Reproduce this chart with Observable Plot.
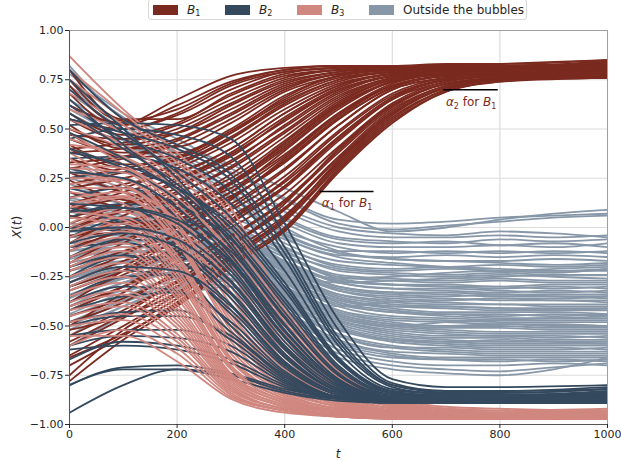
<!DOCTYPE html>
<html>
<head>
<meta charset="utf-8">
<script src="https://cdn.jsdelivr.net/npm/d3@7"></script>
<script src="https://cdn.jsdelivr.net/npm/@observablehq/plot@0.6"></script>
<style>
  body { margin: 0; background: white; font-family: "DejaVu Sans", sans-serif; }
  #wrap { position: relative; width: 621px; height: 461px; }
  #legend { position: absolute; left: 148px; top: -1px; width: 379px; height: 21px;
    border: 1px solid #d8d8d8; border-radius: 3px; background: white; z-index: 2;
    font-size: 12px; color: #262626; box-sizing: border-box; }
  .item { position: absolute; top: 2px; height: 16px; line-height: 16px; white-space: nowrap; }
  .sw { position: absolute; top: 3px; width: 25px; height: 10px; }
  .lab { position: absolute; left: 34px; top: 0; }
  sub { font-size: 8px; vertical-align: -2px; }
</style>
</head>
<body>
<div id="wrap">
  <div id="legend"></div>
  <div id="chart"></div>
</div>
<script>
// ---------- data ----------
const groupNames = ["B1", "B2", "B3", "Outside the bubbles"];
const groupColors = ["#7B2A20", "#34495E", "#D0877F", "#8797A8"];

const tB = [0, 100, 200, 300, 400, 500, 600, 700, 800, 1000];
const tOut = [0, 100, 200, 300, 400, 500, 600, 700, 800, 900, 1000];

const xTicks = [0, 200, 400, 600, 800, 1000];
const yTicks = [-1, -0.75, -0.5, -0.25, 0, 0.25, 0.5, 0.75, 1];

const b1Lines = [
  [0.62, 0.53, 0.65, 0.77, 0.81, 0.82, 0.82, 0.82, 0.82, 0.83],
  [0.72, 0.52, 0.62, 0.74, 0.80, 0.82, 0.82, 0.82, 0.82, 0.84],
  [0.55, 0.50, 0.58, 0.72, 0.79, 0.81, 0.82, 0.82, 0.83, 0.85],
  [0.80, 0.55, 0.55, 0.68, 0.78, 0.81, 0.81, 0.82, 0.82, 0.82],
  [0.47, 0.45, 0.52, 0.65, 0.76, 0.80, 0.81, 0.81, 0.82, 0.83],
  [0.50, 0.42, 0.48, 0.62, 0.74, 0.79, 0.81, 0.81, 0.81, 0.81],
  [0.38, 0.40, 0.45, 0.58, 0.72, 0.78, 0.80, 0.81, 0.81, 0.82],
  [0.30, 0.35, 0.42, 0.55, 0.70, 0.78, 0.80, 0.80, 0.80, 0.80],
  [0.45, 0.38, 0.38, 0.50, 0.67, 0.77, 0.80, 0.81, 0.81, 0.84],
  [0.25, 0.30, 0.36, 0.48, 0.64, 0.75, 0.79, 0.80, 0.80, 0.79],
  [0.20, 0.25, 0.32, 0.45, 0.62, 0.74, 0.79, 0.80, 0.81, 0.82],
  [0.15, 0.22, 0.28, 0.40, 0.58, 0.72, 0.78, 0.79, 0.80, 0.80],
  [0.35, 0.28, 0.26, 0.36, 0.55, 0.70, 0.77, 0.79, 0.80, 0.81],
  [0.10, 0.15, 0.22, 0.33, 0.52, 0.69, 0.77, 0.79, 0.79, 0.78],
  [0.05, 0.12, 0.18, 0.30, 0.48, 0.66, 0.76, 0.78, 0.79, 0.80],
  [0.00, 0.08, 0.14, 0.25, 0.44, 0.64, 0.75, 0.78, 0.79, 0.79],
  [0.28, 0.18, 0.14, 0.22, 0.40, 0.61, 0.74, 0.78, 0.79, 0.82],
  [-0.05, 0.03, 0.10, 0.20, 0.37, 0.58, 0.72, 0.77, 0.78, 0.77],
  [-0.10, -0.02, 0.06, 0.16, 0.33, 0.55, 0.71, 0.77, 0.78, 0.80],
  [-0.15, -0.06, 0.02, 0.12, 0.30, 0.52, 0.70, 0.76, 0.78, 0.78],
  [0.12, 0.04, 0.00, 0.09, 0.26, 0.49, 0.68, 0.76, 0.78, 0.81],
  [-0.22, -0.12, -0.04, 0.06, 0.23, 0.46, 0.66, 0.75, 0.77, 0.77],
  [-0.28, -0.17, -0.08, 0.03, 0.20, 0.44, 0.65, 0.75, 0.77, 0.79],
  [-0.35, -0.24, -0.12, 0.00, 0.17, 0.41, 0.63, 0.74, 0.77, 0.76],
  [-0.40, -0.30, -0.18, -0.04, 0.14, 0.39, 0.62, 0.73, 0.76, 0.78],
  [-0.45, -0.36, -0.24, -0.08, 0.10, 0.36, 0.60, 0.72, 0.76, 0.77],
  [-0.55, -0.42, -0.28, -0.12, 0.06, 0.33, 0.58, 0.71, 0.75, 0.76],
  [-0.65, -0.50, -0.34, -0.16, 0.03, 0.31, 0.56, 0.70, 0.75, 0.77],
  [-0.78, -0.57, -0.40, -0.20, -0.01, 0.29, 0.54, 0.69, 0.74, 0.76],
  [-0.70, -0.55, -0.38, -0.18, 0.00, 0.30, 0.55, 0.70, 0.75, 0.78],
  [0.42, 0.32, 0.34, 0.46, 0.63, 0.75, 0.79, 0.80, 0.81, 0.83],
  [0.08, 0.18, 0.25, 0.38, 0.56, 0.71, 0.78, 0.79, 0.80, 0.84],
  [-0.02, 0.10, 0.20, 0.34, 0.51, 0.68, 0.77, 0.79, 0.80, 0.82],
  [-0.20, -0.08, 0.06, 0.22, 0.41, 0.62, 0.74, 0.78, 0.79, 0.81],
  [-0.30, -0.20, -0.03, 0.14, 0.35, 0.57, 0.72, 0.77, 0.78, 0.80],
  [0.18, 0.10, 0.08, 0.18, 0.36, 0.58, 0.73, 0.78, 0.79, 0.79],
  [-0.50, -0.33, -0.15, 0.04, 0.24, 0.48, 0.67, 0.75, 0.77, 0.80],
  [0.55, 0.45, 0.48, 0.60, 0.73, 0.79, 0.81, 0.82, 0.82, 0.80],
  [-0.12, 0.00, 0.12, 0.27, 0.46, 0.65, 0.76, 0.79, 0.80, 0.85],
  [-0.60, -0.46, -0.30, -0.10, 0.12, 0.40, 0.62, 0.73, 0.76, 0.79],
  [0.68, 0.50, 0.57, 0.70, 0.79, 0.81, 0.82, 0.82, 0.82, 0.83],
  [0.58, 0.47, 0.53, 0.67, 0.77, 0.80, 0.81, 0.82, 0.82, 0.84],
  [0.40, 0.43, 0.50, 0.63, 0.75, 0.80, 0.81, 0.81, 0.81, 0.82],
  [0.33, 0.36, 0.44, 0.57, 0.71, 0.78, 0.80, 0.81, 0.81, 0.83],
  [0.52, 0.40, 0.41, 0.53, 0.69, 0.77, 0.80, 0.80, 0.81, 0.80],
  [0.22, 0.28, 0.35, 0.49, 0.65, 0.76, 0.79, 0.80, 0.81, 0.84],
  [0.12, 0.20, 0.30, 0.43, 0.60, 0.73, 0.78, 0.80, 0.80, 0.81],
  [0.40, 0.30, 0.29, 0.40, 0.58, 0.72, 0.78, 0.80, 0.80, 0.78],
  [0.02, 0.12, 0.24, 0.37, 0.54, 0.70, 0.77, 0.79, 0.80, 0.83],
  [-0.08, 0.06, 0.17, 0.31, 0.49, 0.67, 0.76, 0.79, 0.80, 0.80],
  [0.24, 0.14, 0.12, 0.23, 0.43, 0.63, 0.75, 0.78, 0.79, 0.82],
  [-0.18, -0.04, 0.09, 0.23, 0.42, 0.62, 0.74, 0.78, 0.79, 0.77],
  [0.06, 0.02, 0.04, 0.15, 0.34, 0.56, 0.72, 0.77, 0.79, 0.81],
  [-0.25, -0.14, 0.00, 0.15, 0.33, 0.55, 0.71, 0.77, 0.78, 0.79],
  [-0.38, -0.22, -0.06, 0.10, 0.29, 0.52, 0.70, 0.76, 0.78, 0.82],
  [-0.42, -0.30, -0.14, 0.02, 0.21, 0.46, 0.66, 0.75, 0.77, 0.78],
  [-0.32, -0.22, -0.10, 0.04, 0.21, 0.45, 0.65, 0.74, 0.77, 0.80],
  [-0.48, -0.38, -0.22, -0.05, 0.13, 0.38, 0.61, 0.73, 0.76, 0.77],
  [-0.58, -0.44, -0.27, -0.09, 0.09, 0.35, 0.59, 0.72, 0.76, 0.79],
  [-0.75, -0.52, -0.36, -0.15, 0.04, 0.32, 0.57, 0.71, 0.75, 0.76],
  [-0.66, -0.54, -0.39, -0.19, -0.02, 0.28, 0.53, 0.69, 0.74, 0.77],
  [-0.52, -0.45, -0.33, -0.14, 0.05, 0.34, 0.58, 0.71, 0.75, 0.78],
  [0.75, 0.54, 0.60, 0.73, 0.80, 0.82, 0.82, 0.83, 0.83, 0.85],
  [0.48, 0.36, 0.36, 0.48, 0.66, 0.77, 0.80, 0.81, 0.81, 0.80],
  [-0.04, -0.02, 0.04, 0.18, 0.39, 0.60, 0.74, 0.78, 0.79, 0.83]
];

const b2Lines = [
  [0.52, 0.53, 0.52, 0.45, 0.02, -0.47, -0.77, -0.81, -0.81, -0.80],
  [0.45, 0.50, 0.47, 0.36, -0.04, -0.52, -0.79, -0.83, -0.83, -0.82],
  [0.80, 0.55, 0.42, 0.27, -0.10, -0.56, -0.80, -0.84, -0.85, -0.85],
  [0.62, 0.45, 0.35, 0.18, -0.16, -0.60, -0.81, -0.85, -0.86, -0.86],
  [0.35, 0.36, 0.30, 0.12, -0.22, -0.63, -0.82, -0.84, -0.84, -0.82],
  [0.70, 0.48, 0.28, 0.05, -0.28, -0.66, -0.83, -0.86, -0.87, -0.87],
  [0.25, 0.28, 0.20, 0.00, -0.32, -0.68, -0.84, -0.86, -0.86, -0.85],
  [0.58, 0.40, 0.22, -0.03, -0.36, -0.70, -0.84, -0.85, -0.85, -0.84],
  [0.15, 0.20, 0.12, -0.06, -0.40, -0.72, -0.85, -0.87, -0.87, -0.86],
  [0.75, 0.50, 0.25, -0.08, -0.43, -0.74, -0.85, -0.86, -0.86, -0.85],
  [0.05, 0.12, 0.06, -0.12, -0.46, -0.75, -0.86, -0.87, -0.87, -0.87],
  [0.40, 0.30, 0.14, -0.14, -0.49, -0.77, -0.86, -0.87, -0.88, -0.88],
  [-0.05, 0.04, 0.00, -0.17, -0.52, -0.78, -0.86, -0.86, -0.86, -0.84],
  [0.30, 0.22, 0.06, -0.20, -0.55, -0.79, -0.87, -0.88, -0.88, -0.88],
  [0.20, 0.12, -0.02, -0.24, -0.58, -0.80, -0.87, -0.87, -0.87, -0.86],
  [-0.15, -0.06, -0.08, -0.27, -0.60, -0.81, -0.87, -0.88, -0.88, -0.87],
  [0.10, 0.02, -0.10, -0.30, -0.62, -0.82, -0.87, -0.87, -0.87, -0.85],
  [-0.25, -0.15, -0.15, -0.33, -0.64, -0.83, -0.88, -0.89, -0.89, -0.89],
  [0.00, -0.02, -0.12, -0.36, -0.66, -0.83, -0.87, -0.88, -0.88, -0.87],
  [-0.10, -0.08, -0.16, -0.39, -0.68, -0.84, -0.88, -0.88, -0.88, -0.88],
  [-0.35, -0.25, -0.24, -0.42, -0.70, -0.85, -0.88, -0.88, -0.88, -0.88],
  [-0.20, -0.14, -0.20, -0.44, -0.71, -0.85, -0.88, -0.87, -0.87, -0.86],
  [-0.42, -0.35, -0.33, -0.48, -0.73, -0.86, -0.88, -0.88, -0.88, -0.87],
  [-0.30, -0.22, -0.25, -0.50, -0.74, -0.86, -0.88, -0.89, -0.89, -0.89],
  [-0.50, -0.45, -0.45, -0.55, -0.76, -0.86, -0.88, -0.88, -0.88, -0.87],
  [-0.38, -0.30, -0.32, -0.53, -0.75, -0.86, -0.88, -0.88, -0.88, -0.88],
  [-0.55, -0.52, -0.52, -0.60, -0.78, -0.87, -0.89, -0.89, -0.89, -0.89],
  [-0.48, -0.43, -0.42, -0.57, -0.77, -0.86, -0.88, -0.88, -0.88, -0.88],
  [-0.60, -0.55, -0.56, -0.63, -0.79, -0.86, -0.87, -0.87, -0.87, -0.87],
  [-0.67, -0.58, -0.60, -0.67, -0.80, -0.87, -0.88, -0.87, -0.87, -0.85],
  [-0.62, -0.60, -0.62, -0.69, -0.81, -0.87, -0.89, -0.89, -0.89, -0.89],
  [-0.80, -0.71, -0.70, -0.74, -0.82, -0.86, -0.87, -0.86, -0.86, -0.84],
  [-0.94, -0.80, -0.72, -0.75, -0.83, -0.87, -0.88, -0.88, -0.88, -0.88],
  [-0.80, -0.72, -0.72, -0.77, -0.84, -0.88, -0.89, -0.89, -0.89, -0.89],
  [0.48, 0.35, 0.18, -0.10, -0.45, -0.75, -0.85, -0.86, -0.86, -0.83],
  [0.28, 0.25, 0.10, -0.16, -0.50, -0.77, -0.86, -0.86, -0.86, -0.85],
  [0.12, 0.10, 0.02, -0.22, -0.56, -0.80, -0.87, -0.88, -0.88, -0.88],
  [-0.02, 0.00, -0.06, -0.28, -0.61, -0.82, -0.87, -0.87, -0.87, -0.86],
  [0.65, 0.42, 0.20, -0.05, -0.38, -0.71, -0.84, -0.85, -0.85, -0.83],
  [0.38, 0.32, 0.20, 0.02, -0.30, -0.67, -0.83, -0.84, -0.84, -0.82],
  [-0.08, -0.03, -0.10, -0.34, -0.65, -0.83, -0.87, -0.87, -0.87, -0.86],
  [-0.28, -0.20, -0.22, -0.40, -0.69, -0.84, -0.87, -0.87, -0.87, -0.87],
  [0.08, 0.10, 0.04, -0.18, -0.53, -0.78, -0.86, -0.86, -0.86, -0.85],
  [0.55, 0.48, 0.40, 0.24, -0.13, -0.58, -0.80, -0.83, -0.83, -0.81]
];

const b3Lines = [
  [0.87, 0.60, 0.38, 0.10, -0.40, -0.72, -0.87, -0.91, -0.92, -0.93],
  [0.80, 0.58, 0.35, 0.06, -0.42, -0.73, -0.87, -0.92, -0.93, -0.94],
  [0.75, 0.55, 0.33, 0.03, -0.44, -0.74, -0.88, -0.92, -0.93, -0.92],
  [0.68, 0.52, 0.30, 0.00, -0.46, -0.75, -0.88, -0.93, -0.94, -0.95],
  [0.60, 0.48, 0.27, -0.03, -0.48, -0.76, -0.89, -0.93, -0.94, -0.94],
  [0.55, 0.42, 0.24, -0.06, -0.50, -0.77, -0.89, -0.93, -0.95, -0.96],
  [0.50, 0.40, 0.22, -0.09, -0.52, -0.78, -0.90, -0.93, -0.94, -0.93],
  [0.48, 0.32, 0.15, -0.12, -0.54, -0.79, -0.90, -0.94, -0.95, -0.95],
  [0.45, 0.35, 0.18, -0.15, -0.56, -0.80, -0.90, -0.94, -0.95, -0.96],
  [0.42, 0.36, 0.19, -0.18, -0.58, -0.81, -0.91, -0.94, -0.95, -0.94],
  [0.40, 0.30, 0.12, -0.21, -0.60, -0.82, -0.91, -0.94, -0.95, -0.95],
  [0.38, 0.22, 0.04, -0.24, -0.62, -0.83, -0.91, -0.95, -0.96, -0.97],
  [0.35, 0.18, 0.00, -0.27, -0.64, -0.84, -0.92, -0.95, -0.95, -0.95],
  [0.32, 0.30, 0.08, -0.30, -0.66, -0.85, -0.92, -0.95, -0.96, -0.96],
  [0.30, 0.28, 0.06, -0.33, -0.68, -0.85, -0.92, -0.95, -0.95, -0.93],
  [0.28, 0.22, 0.02, -0.36, -0.69, -0.86, -0.93, -0.95, -0.96, -0.96],
  [0.25, 0.25, 0.02, -0.39, -0.71, -0.87, -0.93, -0.95, -0.96, -0.95],
  [0.22, 0.24, 0.00, -0.42, -0.72, -0.87, -0.93, -0.96, -0.96, -0.97],
  [0.20, 0.20, -0.03, -0.44, -0.74, -0.88, -0.93, -0.95, -0.96, -0.94],
  [0.18, 0.12, -0.08, -0.46, -0.75, -0.88, -0.94, -0.96, -0.96, -0.96],
  [0.15, 0.18, -0.05, -0.48, -0.76, -0.89, -0.94, -0.96, -0.96, -0.95],
  [0.12, 0.16, -0.07, -0.50, -0.77, -0.89, -0.94, -0.96, -0.96, -0.96],
  [0.10, 0.15, -0.08, -0.52, -0.78, -0.90, -0.94, -0.96, -0.97, -0.97],
  [0.08, 0.04, -0.16, -0.54, -0.79, -0.90, -0.94, -0.96, -0.96, -0.94],
  [0.05, 0.00, -0.19, -0.56, -0.80, -0.90, -0.95, -0.96, -0.96, -0.96],
  [0.02, 0.10, -0.14, -0.58, -0.81, -0.91, -0.95, -0.96, -0.96, -0.95],
  [0.00, 0.08, -0.16, -0.60, -0.82, -0.91, -0.95, -0.96, -0.97, -0.97],
  [-0.02, 0.05, -0.18, -0.62, -0.83, -0.91, -0.95, -0.96, -0.96, -0.95],
  [-0.05, 0.02, -0.21, -0.64, -0.84, -0.92, -0.95, -0.96, -0.96, -0.96],
  [-0.08, 0.00, -0.23, -0.66, -0.85, -0.92, -0.95, -0.97, -0.97, -0.97],
  [-0.10, -0.02, -0.25, -0.67, -0.85, -0.92, -0.95, -0.96, -0.96, -0.94],
  [-0.12, -0.05, -0.27, -0.68, -0.86, -0.93, -0.96, -0.97, -0.97, -0.96],
  [-0.15, -0.08, -0.30, -0.70, -0.87, -0.93, -0.96, -0.96, -0.96, -0.96],
  [-0.18, -0.10, -0.32, -0.71, -0.87, -0.93, -0.96, -0.97, -0.97, -0.97],
  [-0.20, -0.12, -0.34, -0.72, -0.88, -0.93, -0.96, -0.96, -0.96, -0.95],
  [-0.22, -0.15, -0.36, -0.74, -0.88, -0.94, -0.96, -0.97, -0.97, -0.96],
  [-0.25, -0.18, -0.39, -0.75, -0.89, -0.94, -0.96, -0.96, -0.96, -0.97],
  [-0.28, -0.20, -0.41, -0.76, -0.89, -0.94, -0.96, -0.97, -0.97, -0.96],
  [-0.30, -0.22, -0.43, -0.77, -0.90, -0.94, -0.96, -0.97, -0.97, -0.97],
  [-0.32, -0.25, -0.45, -0.78, -0.90, -0.95, -0.96, -0.96, -0.96, -0.95],
  [-0.35, -0.28, -0.47, -0.79, -0.91, -0.95, -0.97, -0.97, -0.97, -0.97],
  [-0.38, -0.32, -0.49, -0.80, -0.91, -0.95, -0.96, -0.97, -0.97, -0.96],
  [-0.40, -0.34, -0.51, -0.81, -0.92, -0.95, -0.97, -0.97, -0.97, -0.97],
  [-0.42, -0.38, -0.54, -0.82, -0.92, -0.95, -0.96, -0.97, -0.97, -0.96],
  [-0.45, -0.40, -0.56, -0.83, -0.92, -0.96, -0.97, -0.97, -0.97, -0.97],
  [-0.48, -0.44, -0.58, -0.84, -0.93, -0.96, -0.97, -0.97, -0.97, -0.96],
  [-0.50, -0.47, -0.61, -0.85, -0.93, -0.96, -0.97, -0.97, -0.97, -0.97],
  [-0.55, -0.55, -0.68, -0.87, -0.94, -0.96, -0.97, -0.97, -0.97, -0.97],
  [-0.60, -0.52, -0.64, -0.86, -0.93, -0.96, -0.97, -0.97, -0.97, -0.96]
];

const outLines = [
  [0.82, 0.55, 0.42, 0.32, 0.20, 0.08, -0.02, 0.00, 0.04, 0.07, 0.09],
  [0.78, 0.58, 0.45, 0.30, 0.15, 0.04, 0.02, 0.03, 0.05, 0.06, 0.07],
  [0.72, 0.52, 0.38, 0.25, 0.10, 0.00, -0.03, -0.04, -0.02, -0.03, -0.05],
  [0.68, 0.50, 0.35, 0.20, 0.05, -0.05, -0.07, -0.08, -0.06, -0.07, -0.06],
  [0.60, 0.45, 0.30, 0.15, 0.02, -0.08, -0.10, -0.10, -0.09, -0.10, -0.08],
  [0.40, 0.30, 0.22, 0.12, -0.02, -0.10, -0.13, -0.12, -0.13, -0.12, -0.13],
  [0.20, 0.15, 0.10, 0.05, -0.06, -0.14, -0.15, -0.14, -0.15, -0.14, -0.15],
  [0.30, 0.20, 0.12, 0.08, -0.08, -0.17, -0.19, -0.20, -0.19, -0.20, -0.19],
  [0.10, 0.08, 0.05, 0.02, -0.10, -0.20, -0.22, -0.21, -0.22, -0.23, -0.21],
  [0.00, 0.02, 0.02, 0.00, -0.12, -0.22, -0.24, -0.25, -0.24, -0.25, -0.26],
  [-0.10, -0.05, -0.02, -0.04, -0.15, -0.25, -0.27, -0.28, -0.27, -0.28, -0.28],
  [0.25, 0.18, 0.10, 0.02, -0.14, -0.26, -0.29, -0.30, -0.30, -0.31, -0.30],
  [-0.20, -0.12, -0.08, -0.08, -0.18, -0.28, -0.31, -0.32, -0.33, -0.32, -0.33],
  [0.15, 0.10, 0.05, -0.02, -0.18, -0.30, -0.33, -0.34, -0.35, -0.35, -0.35],
  [-0.30, -0.20, -0.14, -0.12, -0.22, -0.32, -0.35, -0.36, -0.37, -0.37, -0.38],
  [0.05, 0.02, -0.02, -0.06, -0.22, -0.34, -0.38, -0.39, -0.39, -0.40, -0.40],
  [-0.40, -0.28, -0.20, -0.15, -0.25, -0.36, -0.40, -0.41, -0.42, -0.42, -0.42],
  [-0.05, -0.04, -0.06, -0.10, -0.26, -0.38, -0.42, -0.44, -0.44, -0.45, -0.44],
  [-0.15, -0.10, -0.10, -0.12, -0.28, -0.40, -0.45, -0.46, -0.47, -0.47, -0.47],
  [0.35, 0.22, 0.10, -0.04, -0.28, -0.42, -0.47, -0.48, -0.49, -0.49, -0.50],
  [-0.25, -0.18, -0.15, -0.16, -0.31, -0.44, -0.49, -0.51, -0.51, -0.52, -0.52],
  [-0.35, -0.25, -0.20, -0.18, -0.33, -0.46, -0.51, -0.53, -0.54, -0.54, -0.54],
  [-0.45, -0.35, -0.25, -0.20, -0.35, -0.48, -0.54, -0.56, -0.56, -0.57, -0.57],
  [0.00, -0.02, -0.06, -0.12, -0.34, -0.50, -0.56, -0.58, -0.59, -0.59, -0.59],
  [-0.55, -0.40, -0.30, -0.24, -0.38, -0.52, -0.58, -0.60, -0.61, -0.61, -0.62],
  [-0.20, -0.15, -0.15, -0.18, -0.38, -0.54, -0.60, -0.62, -0.63, -0.63, -0.63],
  [-0.50, -0.38, -0.30, -0.26, -0.42, -0.57, -0.63, -0.64, -0.65, -0.65, -0.65],
  [-0.30, -0.22, -0.20, -0.24, -0.44, -0.60, -0.66, -0.67, -0.67, -0.68, -0.67],
  [-0.60, -0.45, -0.35, -0.30, -0.48, -0.64, -0.70, -0.72, -0.73, -0.71, -0.69],
  [-0.40, -0.32, -0.28, -0.30, -0.50, -0.66, -0.72, -0.74, -0.75, -0.72, -0.66],
  [0.50, 0.40, 0.28, 0.15, -0.05, -0.15, -0.18, -0.20, -0.22, -0.21, -0.20],
  [0.65, 0.48, 0.32, 0.18, 0.00, -0.12, -0.16, -0.17, -0.18, -0.19, -0.18],
  [-0.08, -0.06, -0.08, -0.12, -0.30, -0.45, -0.50, -0.48, -0.47, -0.46, -0.46],
  [-0.15, -0.12, -0.12, -0.14, -0.32, -0.40, -0.38, -0.37, -0.36, -0.36, -0.35],
  [0.10, 0.05, 0.00, -0.05, -0.22, -0.28, -0.27, -0.26, -0.25, -0.24, -0.24],
  [0.75, 0.56, 0.40, 0.28, 0.14, 0.02, -0.01, 0.01, 0.03, 0.05, 0.06],
  [0.55, 0.42, 0.32, 0.20, 0.04, -0.06, -0.08, -0.07, -0.09, -0.08, -0.10],
  [0.45, 0.35, 0.25, 0.12, -0.04, -0.12, -0.12, -0.13, -0.12, -0.13, -0.12],
  [0.05, 0.04, 0.03, 0.00, -0.11, -0.19, -0.21, -0.20, -0.21, -0.22, -0.22],
  [-0.05, 0.00, 0.00, -0.02, -0.13, -0.21, -0.23, -0.24, -0.23, -0.24, -0.24],
  [0.18, 0.12, 0.06, 0.00, -0.14, -0.24, -0.26, -0.27, -0.26, -0.27, -0.27],
  [-0.12, -0.08, -0.05, -0.06, -0.17, -0.27, -0.29, -0.29, -0.30, -0.29, -0.29],
  [0.22, 0.14, 0.06, -0.01, -0.17, -0.28, -0.31, -0.31, -0.32, -0.33, -0.32],
  [-0.22, -0.14, -0.10, -0.10, -0.20, -0.30, -0.33, -0.33, -0.34, -0.34, -0.34],
  [0.00, -0.01, -0.03, -0.06, -0.21, -0.32, -0.36, -0.37, -0.36, -0.37, -0.37],
  [-0.32, -0.22, -0.16, -0.13, -0.24, -0.34, -0.37, -0.38, -0.39, -0.39, -0.39],
  [0.12, 0.06, 0.00, -0.06, -0.23, -0.35, -0.39, -0.40, -0.41, -0.41, -0.41],
  [-0.42, -0.30, -0.22, -0.17, -0.27, -0.37, -0.41, -0.43, -0.43, -0.43, -0.44],
  [-0.08, -0.07, -0.08, -0.11, -0.27, -0.39, -0.43, -0.45, -0.46, -0.46, -0.45],
  [-0.18, -0.13, -0.12, -0.14, -0.30, -0.42, -0.46, -0.47, -0.48, -0.48, -0.48],
  [0.28, 0.18, 0.06, -0.06, -0.30, -0.43, -0.48, -0.50, -0.50, -0.51, -0.51],
  [-0.28, -0.20, -0.17, -0.17, -0.32, -0.45, -0.50, -0.52, -0.53, -0.53, -0.53],
  [-0.38, -0.28, -0.22, -0.19, -0.34, -0.47, -0.52, -0.54, -0.55, -0.55, -0.56],
  [-0.02, -0.04, -0.07, -0.13, -0.35, -0.49, -0.55, -0.57, -0.58, -0.58, -0.58],
  [-0.48, -0.37, -0.28, -0.22, -0.37, -0.51, -0.57, -0.59, -0.60, -0.60, -0.60],
  [-0.22, -0.17, -0.16, -0.19, -0.39, -0.55, -0.61, -0.61, -0.62, -0.62, -0.61],
  [-0.52, -0.40, -0.31, -0.27, -0.43, -0.58, -0.64, -0.66, -0.66, -0.66, -0.66],
  [-0.34, -0.26, -0.23, -0.26, -0.46, -0.62, -0.68, -0.70, -0.70, -0.69, -0.70],
  [0.58, 0.44, 0.30, 0.16, -0.03, -0.13, -0.16, -0.17, -0.17, -0.16, -0.17],
  [0.70, 0.52, 0.37, 0.22, 0.08, -0.02, -0.05, -0.05, -0.04, -0.05, -0.04],
  [-0.02, 0.00, -0.02, -0.05, -0.18, -0.27, -0.29, -0.30, -0.31, -0.30, -0.31],
  [0.08, 0.04, 0.00, -0.04, -0.20, -0.31, -0.34, -0.35, -0.34, -0.35, -0.36],
  [-0.26, -0.18, -0.14, -0.12, -0.24, -0.36, -0.40, -0.40, -0.41, -0.42, -0.41],
  [0.02, 0.00, -0.04, -0.08, -0.25, -0.38, -0.43, -0.44, -0.45, -0.44, -0.45],
  [-0.12, -0.10, -0.11, -0.13, -0.30, -0.44, -0.49, -0.50, -0.49, -0.50, -0.50],
  [-0.36, -0.26, -0.20, -0.18, -0.33, -0.47, -0.53, -0.55, -0.55, -0.56, -0.55],
  [-0.16, -0.12, -0.13, -0.16, -0.36, -0.51, -0.57, -0.58, -0.57, -0.58, -0.59],
  [-0.44, -0.33, -0.26, -0.22, -0.40, -0.55, -0.61, -0.63, -0.64, -0.64, -0.64],
  [-0.26, -0.20, -0.19, -0.22, -0.43, -0.59, -0.65, -0.67, -0.68, -0.67, -0.68],
  [0.14, 0.08, 0.02, -0.03, -0.19, -0.26, -0.25, -0.23, -0.22, -0.22, -0.21]
];

// annotation levels alpha1 and alpha2 for B1
const annotT1 = [466, 696];
const annotT2 = [566, 797];
const annotV = [0.183, 0.699];
const annotSub = ["1", "2"];

// ---------- build tables ----------
function toRows(vals, times, group, id) {
  return vals.map((v, j) => ({ t: times[j], v, id, group }));
}
const outRows = outLines.flatMap((vals, i) => toRows(vals, tOut, groupNames[3], "o" + i));
const b1Rows = b1Lines.flatMap((vals, i) => toRows(vals, tB, groupNames[0], "r" + i));
// B2 and B3 are interleaved so neither colour is always on top
const b23Rows = [];
const maxN = Math.max(b2Lines.length, b3Lines.length);
for (let i = 0; i < maxN; i++) {
  if (i < b3Lines.length) b23Rows.push(...toRows(b3Lines[i], tB, groupNames[2], "s" + i));
  if (i < b2Lines.length) b23Rows.push(...toRows(b2Lines[i], tB, groupNames[1], "n" + i));
}
const annot = annotV.map((v, i) => ({ v, t1: annotT1[i], t2: annotT2[i], tm: (annotT1[i] + annotT2[i]) / 2, sub: annotSub[i] }));

const fmtY = d => d.toFixed(2).replace("-", "\u2212");
const lineOpts = { x: "t", y: "v", z: "id", stroke: "group", strokeWidth: 1.8, curve: "monotone-x", clip: true };

const plot = Plot.plot({
  width: 621, height: 461,
  marginLeft: 69, marginRight: 14, marginTop: 30, marginBottom: 37,
  x: { domain: [0, 1000] },
  y: { domain: [-1, 1] },
  color: { domain: groupNames, range: groupColors },
  style: { fontFamily: "DejaVu Sans", fontSize: "11px", color: "#262626", background: "white" },
  marks: [
    Plot.gridX(xTicks, { stroke: "#dcdcdc", strokeOpacity: 1, strokeWidth: 1.2 }),
    Plot.gridY(yTicks, { stroke: "#dcdcdc", strokeOpacity: 1, strokeWidth: 1.2 }),
    Plot.line(outRows, lineOpts),
    Plot.line(b1Rows, lineOpts),
    Plot.line(b23Rows, lineOpts),
    Plot.ruleY(annot, { y: "v", x1: "t1", x2: "t2", stroke: "black", strokeWidth: 1.5 }),
    Plot.text(annot, { x: "tm", y: "v", text: d => "\u03b1" + d.sub + " for B1", dy: 12, fill: groupColors[0], fontSize: 12, className: "annot" }),
    Plot.frame({ stroke: "#a0a0a0" }),
    Plot.ruleX([0], { stroke: "#555" }),
    Plot.ruleY([-1], { stroke: "#555" }),
    Plot.axisX(xTicks, { tickSize: 4, tickPadding: 2, label: null, tickFormat: d => String(d), fontSize: 11 }),
    Plot.axisY(yTicks, { tickSize: 4, tickPadding: 2, label: null, tickFormat: fmtY, fontSize: 11 })
  ]
});
document.getElementById("chart").appendChild(plot);

// rich text for annotations (italic symbols + subscripts)
const svg = d3.select(plot);
svg.selectAll(".annot text").each(function (d, i) {
  const el = d3.select(this);
  const sub = annot[i].sub;
  el.text(null);
  el.append("tspan").attr("font-style", "italic").text("\u03b1");
  el.append("tspan").attr("font-size", 8).attr("dy", 3).text(sub);
  el.append("tspan").attr("dy", -3).text(" for ");
  el.append("tspan").attr("font-style", "italic").text("B");
  el.append("tspan").attr("font-size", 8).attr("dy", 3).text("1");
});

// axis labels
const ylab = svg.append("text").attr("transform", "translate(21,227) rotate(-90)")
  .attr("text-anchor", "middle").attr("font-size", 12).attr("fill", "#262626");
ylab.append("tspan").attr("font-style", "italic").text("X");
ylab.append("tspan").text("(");
ylab.append("tspan").attr("font-style", "italic").text("t");
ylab.append("tspan").text(")");
svg.append("text").attr("x", 338).attr("y", 458).attr("text-anchor", "middle")
  .attr("font-size", 12).attr("font-style", "italic").attr("fill", "#262626").text("t");

// legend
const legendLabels = ["<i>B</i><sub>1</sub>", "<i>B</i><sub>2</sub>", "<i>B</i><sub>3</sub>", "Outside the bubbles"];
const legendX = [4, 76, 148, 220];
const leg = d3.select("#legend");
groupNames.forEach((g, i) => {
  const it = leg.append("div").attr("class", "item").style("left", legendX[i] + "px");
  it.append("div").attr("class", "sw").style("background", groupColors[i]);
  it.append("div").attr("class", "lab").html(legendLabels[i]);
});
</script>
</body>
</html>
